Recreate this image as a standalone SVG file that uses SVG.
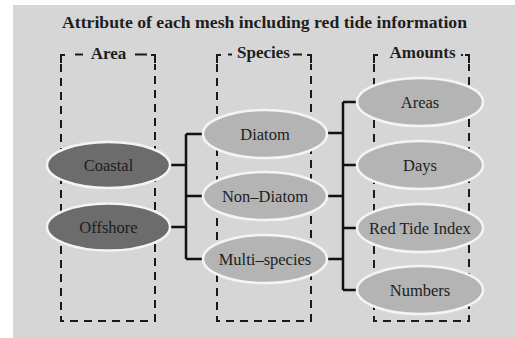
<svg xmlns="http://www.w3.org/2000/svg" width="515" height="338" viewBox="0 0 515 338" font-family="'Liberation Serif', 'Times New Roman', serif">
<style>
text{font-family:'Liberation Serif','Times New Roman',serif;fill:#1e1e1e;}
.lbl{font-size:16.5px;text-anchor:middle;}
.hdr{font-size:17px;font-weight:bold;text-anchor:middle;}
.box{fill:none;stroke:#1a1a1a;stroke-width:2;stroke-dasharray:8 6;}
.cor{fill:none;stroke:#1a1a1a;stroke-width:2;}
.dk{fill:#6c6c6c;stroke:#f4f4f4;stroke-width:2.5;}
.lt{fill:#b4b4b4;stroke:#f4f4f4;stroke-width:2.5;}
.con{fill:none;stroke:#111;stroke-width:2.5;}
</style>
<rect x="0" y="0" width="515" height="338" fill="#ffffff"/>
<rect x="13" y="5" width="502" height="333" fill="#d6d6d6"/>
<text x="264.5" y="28" font-family="Liberation Serif, serif" font-size="16" font-weight="bold" text-anchor="middle" textLength="405" lengthAdjust="spacingAndGlyphs">Attribute of each mesh including red tide information</text>

<g id="area-box">
<path class="box" d="M61,64 V321 H155 V64"/>
<path class="cor" d="M61,63 V55 H65 M151,55 H155 V63 M75,54.5 H83 M135,54.5 H147"/>
<text class="hdr" x="108.5" y="59" font-family="Liberation Serif, serif">Area</text>
</g>
<g id="species-box">
<path class="box" d="M217,64 V321 H311 V64"/>
<path class="cor" d="M217,63 V55 H221 M307,55 H311 V63 M228,54.5 H232 M293,54.5 H302"/>
<text class="hdr" x="263.5" y="58" font-family="Liberation Serif, serif">Species</text>
</g>
<g id="amounts-box">
<path class="box" d="M374,64 V321 H469 V64"/>
<path class="cor" d="M374,63 V55 H378 M465,55 H469 V63 M461,55 H463"/>
<text class="hdr" x="422.5" y="58" font-family="Liberation Serif, serif">Amounts</text>
</g>

<g id="connectors">
<path class="con" d="M170,165 H186 M170,227 H186 M186,134 V259 M186,134 H203 M186,196 H203 M186,259 H203"/>
<path class="con" d="M327,133 H343 M327,196 H343 M327,259 H343 M343,102 V290 M343,102 H358 M343,165 H358 M343,228 H358 M343,290 H358"/>
</g>

<g id="coastal"><ellipse class="dk" cx="108.5" cy="165" rx="61.5" ry="23"/><text class="lbl" x="108.5" y="170.5" font-family="Liberation Serif, serif">Coastal</text></g>
<g id="offshore"><ellipse class="dk" cx="108.5" cy="227" rx="61.5" ry="23.5"/><text class="lbl" x="108.5" y="232.5" font-family="Liberation Serif, serif">Offshore</text></g>

<g id="diatom"><ellipse class="lt" cx="265" cy="134" rx="62" ry="24"/><text class="lbl" x="265" y="139.5" font-family="Liberation Serif, serif">Diatom</text></g>
<g id="non-diatom"><ellipse class="lt" cx="265" cy="196" rx="62" ry="24"/><text class="lbl" x="265" y="201.5" font-family="Liberation Serif, serif">Non–Diatom</text></g>
<g id="multi-species"><ellipse class="lt" cx="265" cy="259" rx="62" ry="24"/><text class="lbl" x="265" y="264.5" font-family="Liberation Serif, serif">Multi–species</text></g>

<g id="areas"><ellipse class="lt" cx="420" cy="102" rx="63" ry="24"/><text class="lbl" x="420" y="107.5" font-family="Liberation Serif, serif">Areas</text></g>
<g id="days"><ellipse class="lt" cx="420" cy="165" rx="63" ry="24"/><text class="lbl" x="420" y="170.5" font-family="Liberation Serif, serif">Days</text></g>
<g id="red-tide-index"><ellipse class="lt" cx="420" cy="228" rx="63" ry="24"/><text class="lbl" x="420" y="233.5" font-family="Liberation Serif, serif">Red Tide Index</text></g>
<g id="numbers"><ellipse class="lt" cx="420" cy="290" rx="63" ry="24"/><text class="lbl" x="420" y="295.5" font-family="Liberation Serif, serif">Numbers</text></g>
</svg>
